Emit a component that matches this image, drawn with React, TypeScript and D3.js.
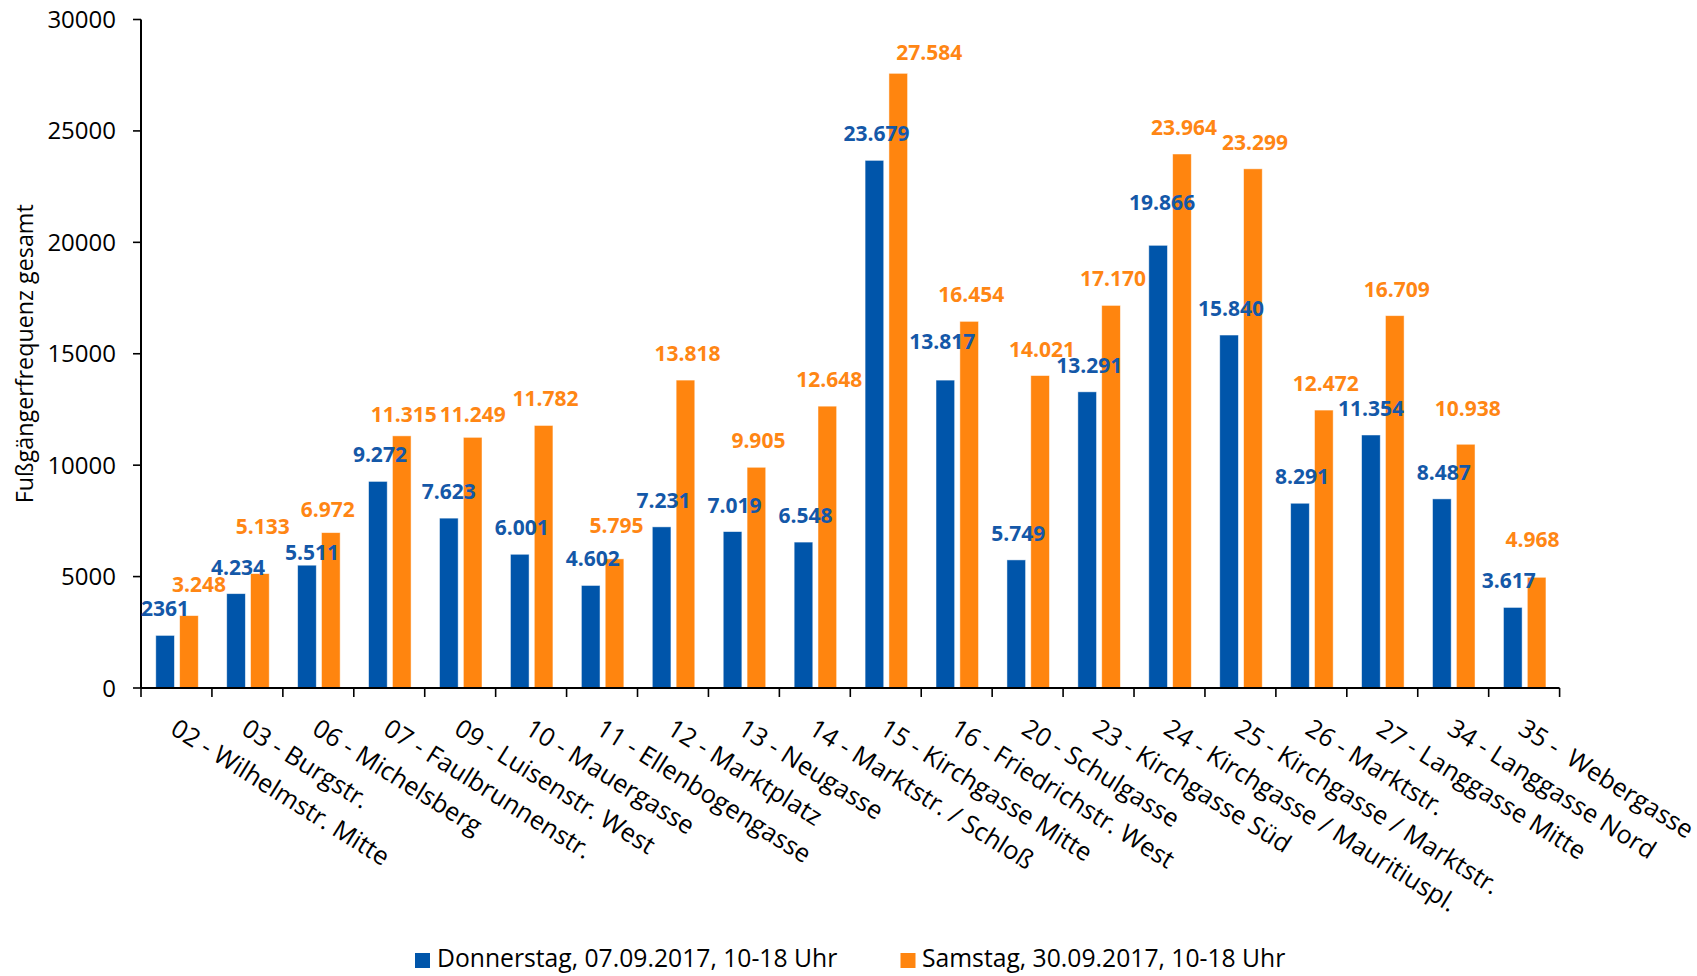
import React from "react";
import * as d3 from "d3";

// ---------- data ----------
const categories: string[] = [
  "02 - Wilhelmstr. Mitte",
  "03 - Burgstr.",
  "06 - Michelsberg",
  "07 - Faulbrunnenstr.",
  "09 - Luisenstr. West",
  "10 - Mauergasse",
  "11 - Ellenbogengasse",
  "12 - Marktplatz",
  "13 - Neugasse",
  "14 - Marktstr. / Schloß",
  "15 - Kirchgasse Mitte",
  "16 - Friedrichstr. West",
  "20 - Schulgasse",
  "23 - Kirchgasse Süd",
  "24 - Kirchgasse / Mauritiuspl.",
  "25 - Kirchgasse / Marktstr.",
  "26 - Marktstr.",
  "27 - Langgasse Mitte",
  "34 - Langgasse Nord",
  "35 -  Webergasse",
];

const donnerstag: number[] = [
  2361, 4234, 5511, 9272, 7623, 6001, 4602, 7231, 7019, 6548,
  23679, 13817, 5749, 13291, 19866, 15840, 8291, 11354, 8487, 3617,
];

const samstag: number[] = [
  3248, 5133, 6972, 11315, 11249, 11782, 5795, 13818, 9905, 12648,
  27584, 16454, 14021, 17170, 23964, 23299, 12472, 16709, 10938, 4968,
];

const donnerstagLabels: string[] = [
  "2361", "4.234", "5.511", "9.272", "7.623", "6.001", "4.602", "7.231", "7.019", "6.548",
  "23.679", "13.817", "5.749", "13.291", "19.866", "15.840", "8.291", "11.354", "8.487", "3.617",
];

const samstagLabels: string[] = [
  "3.248", "5.133", "6.972", "11.315", "11.249", "11.782", "5.795", "13.818", "9.905", "12.648",
  "27.584", "16.454", "14.021", "17.170", "23.964", "23.299", "12.472", "16.709", "10.938", "4.968",
];

const seriesNames: string[] = [
  "Donnerstag, 07.09.2017, 10-18 Uhr",
  "Samstag, 30.09.2017, 10-18 Uhr",
];

const yTicks: number[] = [0, 5000, 10000, 15000, 20000, 25000, 30000];
const yTitle = "Fußgängerfrequenz gesamt";

// manual label nudges (as placed in the original chart): [dx, dy] in px
const donnerstagNudge: [number, number][] = [
  [-2, 0], [0, 0], [3, 14], [0, 0], [-2, 0], [0, 0], [0, 0], [0, 0], [0, 0], [0, 0],
  [0, 0], [-5, -12], [0, 0], [0, 0], [2, -16], [0, 0], [0, 0], [-2, 0], [0, 0], [-6, 0],
];
const samstagNudge: [number, number][] = [
  [8, -5], [1, -21], [-5, 3], [0, 5], [-2, 4], [0, 0], [0, -7], [0, 0], [0, 0], [0, 0],
  [29, 6], [0, 0], [0, 0], [0, 0], [0, 0], [0, 0], [0, 0], [0, 0], [0, -9], [-6, -11],
];

// ---------- style ----------
const W = 1697;
const H = 976;
const BLUE = "#0055AA";
const ORANGE = "#FF850F";
const BLUE_TXT = "#1458A8";
const ORANGE_TXT = "#FF8614";
const FONT = "'Open Sans', 'Noto Sans', sans-serif";

const plot = { left: 141, right: 1559.6, top: 19.5, bottom: 688 };

export default function App() {
  const x0 = d3.scaleBand<string>().domain(categories).range([plot.left, plot.right]).padding(0);
  const x1 = d3
    .scaleBand<string>()
    .domain(["d", "s"])
    .range([0, x0.bandwidth()])
    .paddingInner(0.218)
    .paddingOuter(0.596)
    .align(0.52);
  const y = d3.scaleLinear().domain([0, 30000]).range([plot.bottom, plot.top]);

  const series = [
    { key: "d", values: donnerstag, labels: donnerstagLabels, nudge: donnerstagNudge, color: BLUE, txt: BLUE_TXT },
    { key: "s", values: samstag, labels: samstagLabels, nudge: samstagNudge, color: ORANGE, txt: ORANGE_TXT },
  ];

  const bw = x1.bandwidth();
  const step = x0.step();
  const rot = 32;

  return (
    <svg
      width={W}
      height={H}
      viewBox={`0 0 ${W} ${H}`}
      style={{ position: "absolute", left: 0, top: 0, background: "#fff" }}
      fontFamily={FONT}
    >
      <rect x={0} y={0} width={W} height={H} fill="#fff" />

      {/* bars */}
      {series.map((s) =>
        s.values.map((v, i) => {
          const bx = (x0(categories[i]) as number) + (x1(s.key) as number);
          return (
            <rect
              key={s.key + i}
              x={bx}
              y={y(v)}
              width={bw}
              height={y(0) - y(v)}
              fill={s.color}
              stroke="#ffffff"
              strokeOpacity={0.6}
              strokeWidth={0.8}
            />
          );
        })
      )}

      {/* y axis */}
      <line x1={plot.left} x2={plot.left} y1={plot.top} y2={plot.bottom} stroke="#000" strokeWidth={2} />
      {yTicks.map((t) => (
        <g key={t}>
          <line x1={plot.left - 8} x2={plot.left} y1={y(t)} y2={y(t)} stroke="#000" strokeWidth={1.6} />
          <text x={116} y={y(t) + 8.5} textAnchor="end" fontSize={24} fill="#000">
            {t}
          </text>
        </g>
      ))}

      {/* x axis */}
      <line x1={plot.left} x2={plot.right} y1={plot.bottom} y2={plot.bottom} stroke="#000" strokeWidth={2} />
      {d3.range(categories.length + 1).map((i) => {
        const xx = plot.left + i * step;
        return <line key={i} x1={xx} x2={xx} y1={plot.bottom} y2={plot.bottom + 9} stroke="#000" strokeWidth={1.6} />;
      })}

      {/* category labels */}
      {categories.map((c, i) => {
        const cx = (x0(c) as number) + step / 2 - 7.5;
        const cy = 733;
        return (
          <text
            key={c}
            x={cx}
            y={cy}
            transform={`rotate(${rot}, ${cx}, ${cy})`}
            fontSize={25.3}
            fill="#000"
            textAnchor="start"
            style={{ whiteSpace: "pre" }}
          >
            {c}
          </text>
        );
      })}

      {/* data labels */}
      {series.map((s) =>
        s.values.map((v, i) => {
          const bx = (x0(categories[i]) as number) + (x1(s.key) as number) + bw / 2;
          const [dx, dy] = s.nudge[i];
          return (
            <text
              key={"l" + s.key + i}
              x={bx + 2 + dx}
              y={y(v) - 19 + dy}
              textAnchor="middle"
              fontSize={21}
              fontWeight={700}
              fill={s.txt}
            >
              {s.labels[i]}
            </text>
          );
        })
      )}

      {/* y title */}
      <text
        transform={`translate(33, ${(plot.top + plot.bottom) / 2}) rotate(-90)`}
        textAnchor="middle"
        fontSize={23.3}
        fill="#000"
      >
        {yTitle}
      </text>

      {/* legend */}
      <rect x={415} y={953} width={15} height={15} fill={BLUE} />
      <text x={437} y={967} fontSize={24.7} fill="#000">
        {seriesNames[0]}
      </text>
      <rect x={900.5} y={953} width={15} height={15} fill={ORANGE} />
      <text x={922} y={967} fontSize={24.7} fill="#000">
        {seriesNames[1]}
      </text>
    </svg>
  );
}
